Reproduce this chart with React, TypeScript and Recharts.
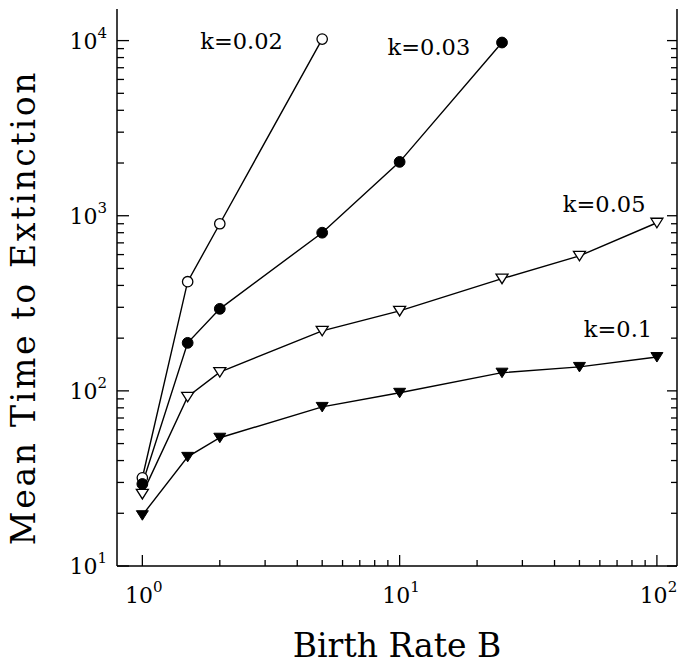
import { LineChart, Line, XAxis, YAxis, ReferenceDot } from 'recharts';

const FONT = 'DejaVu Serif';

// birth rate B vs mean time to extinction, one list per k
const k002 = [
  { x: 1, y: 31.9 },
  { x: 1.5, y: 420 },
  { x: 2, y: 900 },
  { x: 5, y: 10200 },
];
const k003 = [
  { x: 1, y: 29.4 },
  { x: 1.5, y: 188 },
  { x: 2, y: 294 },
  { x: 5, y: 800 },
  { x: 10, y: 2030 },
  { x: 25, y: 9750 },
];
const k005 = [
  { x: 1, y: 25.8 },
  { x: 1.5, y: 92.5 },
  { x: 2, y: 128 },
  { x: 5, y: 220 },
  { x: 10, y: 286 },
  { x: 25, y: 437 },
  { x: 50, y: 590 },
  { x: 100, y: 912 },
];
const k01 = [
  { x: 1, y: 19.5 },
  { x: 1.5, y: 42 },
  { x: 2, y: 54 },
  { x: 5, y: 81 },
  { x: 10, y: 97.5 },
  { x: 25, y: 127 },
  { x: 50, y: 137 },
  { x: 100, y: 156 },
];

// curve labels (left edge / baseline, in data units)
const curveLabels = [
  { text: 'k=0.02', x: 1.68, y: 9000 },
  { text: 'k=0.03', x: 8.98, y: 8320 },
  { text: 'k=0.05', x: 43.1, y: 1054 },
  { text: 'k=0.1', x: 52, y: 204 },
];

const xTicks = [1, 2, 3, 4, 5, 6, 7, 8, 9, 10, 20, 30, 40, 50, 60, 70, 80, 90, 100];
const yTicks = [
  10, 20, 30, 40, 50, 60, 70, 80, 90,
  100, 200, 300, 400, 500, 600, 700, 800, 900,
  1000, 2000, 3000, 4000, 5000, 6000, 7000, 8000, 9000,
  10000,
];
const X_DOMAIN = [0.797, 119.7];
const Y_DOMAIN = [10, 15150];

const isDecade = (v: number) => Math.abs(Math.log10(v) - Math.round(Math.log10(v))) < 1e-9;

function Pow({ x, y, v, anchor }: { x: number; y: number; v: number; anchor: string }) {
  return (
    <text x={x} y={y} textAnchor={anchor} fontFamily={FONT} fontSize={22} fill="#000">
      <tspan>10</tspan>
      <tspan dy={-11} fontSize={15}>{Math.round(Math.log10(v))}</tspan>
    </text>
  );
}

function LeftTick({ x, y, payload }: any) {
  const major = isDecade(payload.value);
  return (
    <g>
      <line x1={x} x2={x + (major ? 12 : 7)} y1={y} y2={y} stroke="#000" strokeWidth={1.3} />
      {major && <Pow x={x - 10} y={y + 8} v={payload.value} anchor="end" />}
    </g>
  );
}

function RightTick({ x, y, payload }: any) {
  const major = isDecade(payload.value);
  return <line x1={x} x2={x - (major ? 10 : 6)} y1={y} y2={y} stroke="#000" strokeWidth={1.3} />;
}

function BottomTick({ x, y, payload }: any) {
  const major = isDecade(payload.value);
  return (
    <g>
      <line x1={x} x2={x} y1={y} y2={y - (major ? 11 : 6)} stroke="#000" strokeWidth={1.3} />
      {major && <Pow x={x + 1.5} y={y + 37} v={payload.value} anchor="middle" />}
    </g>
  );
}

function OpenCircle({ cx, cy, index }: any) {
  return <circle key={index} cx={cx} cy={cy} r={5.2} fill="#fff" stroke="#000" strokeWidth={1.3} />;
}
function FilledCircle({ cx, cy, index }: any) {
  return <circle key={index} cx={cx} cy={cy} r={5.4} fill="#000" stroke="#000" strokeWidth={1} />;
}
function tri(cx: number, cy: number) {
  return `M${cx - 6},${cy - 4.5} L${cx + 6},${cy - 4.5} L${cx},${cy + 5} Z`;
}
function OpenTri({ cx, cy, index }: any) {
  return <path key={index} d={tri(cx, cy)} fill="#fff" stroke="#000" strokeWidth={1.3} />;
}
function FilledTri({ cx, cy, index }: any) {
  return <path key={index} d={tri(cx, cy)} fill="#000" stroke="#000" strokeWidth={1} />;
}

const series = [
  { data: k002, dot: OpenCircle },
  { data: k003, dot: FilledCircle },
  { data: k005, dot: OpenTri },
  { data: k01, dot: FilledTri },
];

export default function App() {
  return (
    <div style={{ width: 681, height: 665, background: '#fff' }}>
      <style>{'body{margin:0}'}</style>
      <LineChart width={681} height={665} margin={{ top: 9, right: 0, bottom: 0, left: 0 }}>
        <XAxis
          dataKey="x"
          type="number"
          scale="log"
          domain={X_DOMAIN}
          allowDataOverflow
          ticks={xTicks}
          interval={0}
          height={99}
          tickSize={0}
          tickMargin={0}
          tickLine={false}
          tick={<BottomTick />}
          axisLine={{ stroke: '#000', strokeWidth: 1.5 }}
          label={({ viewBox }: any) => (
            <text
              x={viewBox.x + viewBox.width / 2}
              y={viewBox.y + 91}
              textAnchor="middle"
              fontFamily={FONT}
              fontSize={33}
              fill="#000"
            >
              Birth Rate B
            </text>
          )}
        />
        <XAxis
          xAxisId="top"
          orientation="top"
          type="number"
          scale="log"
          domain={X_DOMAIN}
          allowDataOverflow
          height={0}
          tick={false}
          tickLine={false}
          axisLine={{ stroke: '#000', strokeWidth: 1.5 }}
        />
        <YAxis
          type="number"
          scale="log"
          domain={Y_DOMAIN}
          allowDataOverflow
          ticks={yTicks}
          interval={0}
          width={117}
          tickSize={0}
          tickMargin={0}
          tickLine={false}
          tick={<LeftTick />}
          axisLine={{ stroke: '#000', strokeWidth: 1.5 }}
          label={({ viewBox }: any) => {
            const cy = viewBox.y + viewBox.height / 2 + 20;
            return (
              <text
                x={35}
                y={cy}
                transform={`rotate(-90, 35, ${cy})`}
                textAnchor="middle"
                fontFamily={FONT}
                fontSize={33}
                letterSpacing={2.7}
                fill="#000"
              >
                Mean Time to Extinction
              </text>
            );
          }}
        />
        <YAxis
          yAxisId="right"
          orientation="right"
          type="number"
          scale="log"
          domain={Y_DOMAIN}
          allowDataOverflow
          ticks={yTicks}
          interval={0}
          width={4}
          tickSize={0}
          tickMargin={0}
          tickLine={false}
          tick={<RightTick />}
          axisLine={{ stroke: '#000', strokeWidth: 1.5 }}
        />
        {series.map((s, i) => (
          <Line
            key={i}
            data={s.data}
            dataKey="y"
            type="linear"
            stroke="#000"
            strokeWidth={1.4}
            dot={s.dot}
            activeDot={false}
            isAnimationActive={false}
          />
        ))}
        {curveLabels.map((l) => (
          <ReferenceDot
            key={l.text}
            x={l.x}
            y={l.y}
            r={0}
            ifOverflow="visible"
            shape={(p: any) => (
              <text x={p.cx} y={p.cy} fontFamily={FONT} fontSize={22.5} fill="#000">
                {l.text}
              </text>
            )}
          />
        ))}
      </LineChart>
    </div>
  );
}
